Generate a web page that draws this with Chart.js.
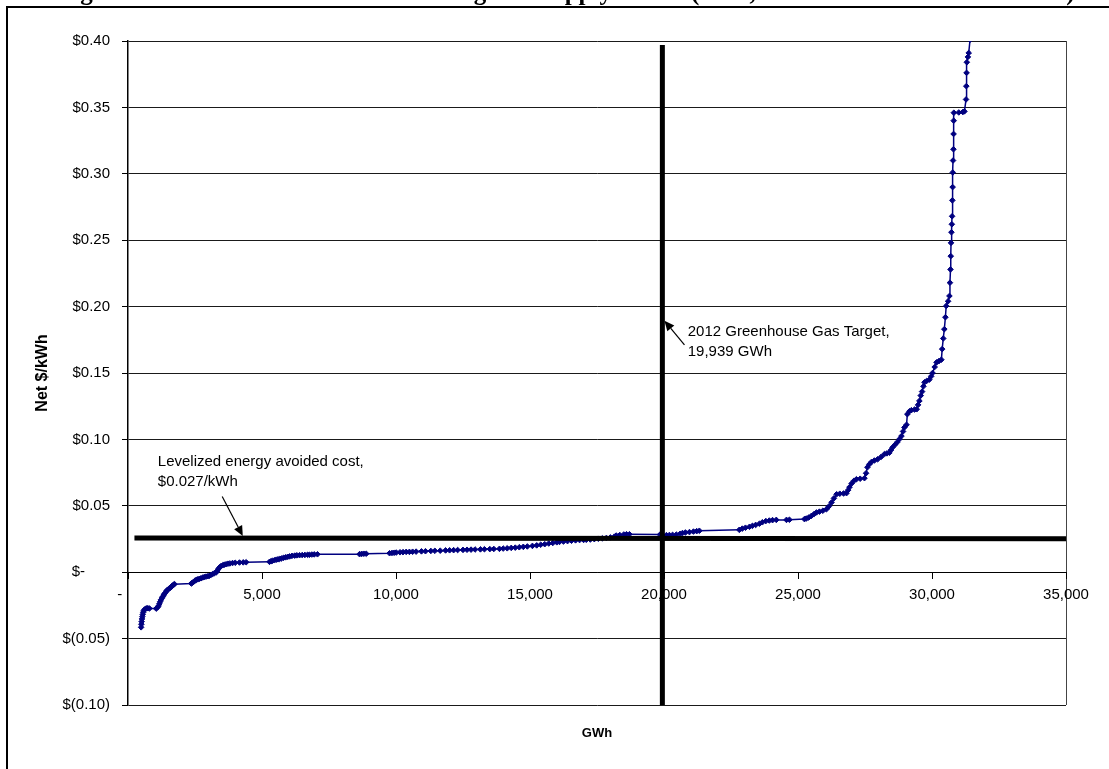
<!DOCTYPE html>
<html>
<head>
<meta charset="utf-8">
<script src="https://cdn.jsdelivr.net/npm/chart.js@4.4.1/dist/chart.umd.min.js"></script>
<style>
  html, body { margin: 0; padding: 0; background: #fff; }
  canvas { display: block; }
</style>
</head>
<body>
<canvas id="c" width="1109" height="769"></canvas>
<script>
// ---- Data ----
const gwh = [
  490, 500, 510, 522, 535, 550, 568, 590, 616, 650, 700, 740, 800, 1050, 1100, 1140, 1170, 1200, 1230, 1260,
  1300, 1330, 1360, 1400, 1440, 1480, 1520, 1560, 1610, 1650, 1700, 1735, 2360, 2400, 2450, 2500, 2545, 2600,
  2660, 2720, 2790, 2850, 2910, 2980, 3040, 3100, 3160, 3220, 3290, 3330, 3370, 3415, 3470, 3540, 3600, 3660,
  3730, 3800, 3900, 4000, 4160, 4300, 4410, 5280, 5340, 5390, 5460, 5530, 5600, 5650, 5720, 5800, 5880, 5960,
  6030, 6120, 6220, 6300, 6400, 6500, 6600, 6700, 6770, 6860, 6950, 7070, 8640, 8720, 8800, 8890, 9760, 9850,
  9930, 10010, 10150, 10260, 10380, 10500, 10620, 10750, 10950, 11100, 11300, 11450, 11650, 11850, 12000, 12150,
  12300, 12500, 12650, 12800, 12950, 13150, 13300, 13500, 13650, 13860, 14000, 14150, 14300, 14450, 14600, 14750,
  14900, 15090, 15250, 15400, 15550, 15700, 15850, 16000, 16100, 16250, 16400, 16550, 16700, 16850, 17000, 17100,
  17250, 17400, 17550, 17700, 17850, 18000, 18150, 18220, 18350, 18500, 18600, 18710, 19850, 20090, 20200, 20320,
  20460, 20600, 20690, 20800, 20950, 21100, 21220, 21320, 22810, 22920, 23040, 23190, 23300, 23420, 23560, 23670,
  23800, 23930, 24050, 24190, 24570, 24680, 25240, 25310, 25400, 25500, 25600, 25690, 25800, 25930, 26060, 26150,
  26250, 26340, 26440, 26560, 26700, 26810, 26870, 26920, 27000, 27090, 27180, 27320, 27480, 27540, 27590, 27660,
  27740, 27850, 27970, 28100, 28230, 28320, 28410, 28470, 28530, 28620, 28710, 28790, 28860, 28920, 28970, 29050,
  29080, 29160, 29230, 29350, 29430, 29480, 29530, 29580, 29630, 29680, 29720, 29800, 29900, 29970, 30020, 30100,
  30170, 30260, 30350, 30380, 30420, 30460, 30500, 30530, 30600, 30650, 30670, 30690, 30700, 30710, 30725, 30740,
  30750, 30760, 30770, 30775, 30785, 30800, 30805, 30810, 30815, 31000, 31150, 31210, 31270, 31280, 31290, 31300,
  31340, 31370, 31420, 31460
];
const netCost = [
  -0.0415, -0.0392, -0.0372, -0.0352, -0.0335, -0.0318, -0.0302, -0.0290, -0.0282, -0.0276, -0.0272, -0.0271, -0.0273, -0.0274, -0.0266, -0.0254, -0.0238, -0.0222, -0.0208, -0.0196,
  -0.0184, -0.0172, -0.0163, -0.0153, -0.0140, -0.0132, -0.0126, -0.0120, -0.0112, -0.0102, -0.0094, -0.0090, -0.0085, -0.0080, -0.0072, -0.0064, -0.0058, -0.0054,
  -0.0050, -0.0046, -0.0040, -0.0036, -0.0033, -0.0030, -0.0027, -0.0020, -0.0014, -0.0008, -0.0002, 0.0010, 0.0024, 0.0036, 0.0046, 0.0053, 0.0057, 0.0060,
  0.0064, 0.0066, 0.0069, 0.0071, 0.0073, 0.0074, 0.0075, 0.0078, 0.0083, 0.0086, 0.0090, 0.0094, 0.0097, 0.0099, 0.0103, 0.0108, 0.0112, 0.0116,
  0.0119, 0.0123, 0.0125, 0.0127, 0.0128, 0.0129, 0.0130, 0.0131, 0.0131, 0.0133, 0.0134, 0.0135, 0.0136, 0.0138, 0.0139, 0.0139, 0.0143, 0.0145,
  0.0146, 0.0148, 0.0150, 0.0151, 0.0153, 0.0153, 0.0154, 0.0155, 0.0157, 0.0158, 0.0160, 0.0161, 0.0162, 0.0164, 0.0165, 0.0166,
  0.0167, 0.0168, 0.0169, 0.0170, 0.0171, 0.0172, 0.0173, 0.0174, 0.0175, 0.0176, 0.0178, 0.0180, 0.0183, 0.0185, 0.0188, 0.0191,
  0.0194, 0.0198, 0.0202, 0.0207, 0.0211, 0.0216, 0.0220, 0.0225, 0.0228, 0.0231, 0.0234, 0.0237, 0.0240, 0.0242, 0.0243, 0.0244,
  0.0246, 0.0249, 0.0252, 0.0255, 0.0258, 0.0262, 0.0268, 0.0276, 0.0280, 0.0284, 0.0286, 0.0286, 0.0283, 0.0279, 0.0280, 0.0281,
  0.0283, 0.0289, 0.0295, 0.0299, 0.0302, 0.0306, 0.0309, 0.0312, 0.0319, 0.0328, 0.0335, 0.0342, 0.0349, 0.0356, 0.0365, 0.0376,
  0.0385, 0.0389, 0.0392, 0.0394, 0.0394, 0.0395, 0.0400, 0.0404, 0.0412, 0.0424, 0.0438, 0.0450, 0.0456, 0.0463, 0.0474, 0.0495,
  0.0525, 0.0556, 0.0587, 0.0591, 0.0593, 0.0595, 0.0618, 0.0640, 0.0668, 0.0689, 0.0700, 0.0704, 0.0708, 0.0745, 0.0790, 0.0812,
  0.0830, 0.0841, 0.0850, 0.0868, 0.0890, 0.0895, 0.0900, 0.0920, 0.0940, 0.0960, 0.0980, 0.1003, 0.1025, 0.1060, 0.1090, 0.1110,
  0.1190, 0.1212, 0.1220, 0.1225, 0.1227, 0.1260, 0.1290, 0.1330, 0.1360, 0.1400, 0.1430, 0.1440, 0.1450, 0.1475, 0.1500, 0.1545,
  0.1580, 0.1590, 0.1600, 0.1680, 0.1760, 0.1830, 0.1920, 0.2005, 0.2040, 0.2080, 0.2180, 0.2280, 0.2380, 0.2480, 0.2560, 0.2620,
  0.2680, 0.2800, 0.2900, 0.3010, 0.3100, 0.3185, 0.3300, 0.3400, 0.3460, 0.3462, 0.3465, 0.3470, 0.3560, 0.3660, 0.3760, 0.3840,
  0.3880, 0.3910, 0.4010, 0.4100
];

// Reference lines
const avoidedCostGwh = [240, 35000];
const avoidedCostValue = [0.0258, 0.0252];
const targetGwh = [19939, 19939];
const targetValue = [-0.10, 0.397];

// Axis ticks
const xTickValues = [0, 5000, 10000, 15000, 20000, 25000, 30000, 35000];
const yTickValues = [-0.10, -0.05, 0, 0.05, 0.10, 0.15, 0.20, 0.25, 0.30, 0.35, 0.40];

// Texts
const titleText = 'Figure 6: Achievable Conservation Program Supply Curve (2012, Levelized Net Resource Cost)';
const yTitle = 'Net $/kWh';
const xTitle = 'GWh';
const avoidedLabel = ['Levelized energy avoided cost,', '$0.027/kWh'];
const targetLabel = ['2012 Greenhouse Gas Target,', '19,939 GWh'];

// ---- Helpers ----
function fmtThousands(v) {
  const s = String(Math.round(v));
  return s.replace(/\B(?=(\d{3})+(?!\d))/g, ',');
}
function fmtX(v) {
  if (Math.abs(v) < 1e-9) return '-    ';
  return fmtThousands(v);
}
function fmtY(v) {
  const r = Math.round(v * 100) / 100;
  if (Math.abs(r) < 1e-9) return '$-      ';
  if (r < 0) return '$(' + Math.abs(r).toFixed(2) + ')';
  return '$' + r.toFixed(2);
}

function drawArrow(ctx, x1, y1, x2, y2) {
  const ang = Math.atan2(y2 - y1, x2 - x1);
  const len = 10, half = 4.5;
  const bx = x2 - len * Math.cos(ang), by = y2 - len * Math.sin(ang);
  ctx.beginPath();
  ctx.moveTo(x1, y1);
  ctx.lineTo(bx, by);
  ctx.lineWidth = 1.2;
  ctx.strokeStyle = '#000';
  ctx.stroke();
  ctx.beginPath();
  ctx.moveTo(x2, y2);
  ctx.lineTo(bx + half * Math.sin(ang), by - half * Math.cos(ang));
  ctx.lineTo(bx - half * Math.sin(ang), by + half * Math.cos(ang));
  ctx.closePath();
  ctx.fillStyle = '#000';
  ctx.fill();
}

const decor = {
  id: 'decor',
  afterDraw(chart) {
    const { ctx, chartArea } = chart;
    const xs = chart.scales.x, ys = chart.scales.y;
    ctx.save();
    // outer frame
    ctx.strokeStyle = '#000';
    ctx.lineWidth = 2;
    ctx.strokeRect(7, 7, 1300, 1000);
    // cropped title (only descenders visible)
    ctx.fillStyle = '#000';
    ctx.font = 'bold 25px "Liberation Serif", "Times New Roman", serif';
    ctx.textAlign = 'left';
    ctx.textBaseline = 'alphabetic';
    ctx.fillText(titleText, 58, 0);

    // annotations
    ctx.font = '15px "Liberation Sans", Arial, sans-serif';
    ctx.textBaseline = 'middle';
    ctx.fillStyle = '#000';
    // target annotation
    drawArrow(ctx, xs.getPixelForValue(20763), ys.getPixelForValue(0.1711),
                   xs.getPixelForValue(20017), ys.getPixelForValue(0.1894));
    let tx = xs.getPixelForValue(20887), ty = ys.getPixelForValue(0.1811);
    targetLabel.forEach((t, i) => ctx.fillText(t, tx, ty + i * 20));
    // avoided cost annotation
    drawArrow(ctx, xs.getPixelForValue(3515), ys.getPixelForValue(0.0570),
                   xs.getPixelForValue(4283), ys.getPixelForValue(0.0273));
    tx = xs.getPixelForValue(1112); ty = ys.getPixelForValue(0.0831);
    avoidedLabel.forEach((t, i) => ctx.fillText(t, tx, ty + i * 20));

    // x axis title
    ctx.font = 'bold 13px "Liberation Sans", Arial, sans-serif';
    ctx.textAlign = 'center';
    ctx.fillText(xTitle, (chartArea.left + chartArea.right) / 2, 733);
    ctx.restore();
  }
};

const curvePoints = gwh.map((x, i) => ({ x: x, y: netCost[i] }));
const avoidedPoints = avoidedCostGwh.map((x, i) => ({ x: x, y: avoidedCostValue[i] }));
const targetPoints = targetGwh.map((x, i) => ({ x: x, y: targetValue[i] }));

const tickFont = { family: '"Liberation Sans", Arial, sans-serif', size: 15 };

new Chart(document.getElementById('c').getContext('2d'), {
  type: 'scatter',
  data: {
    datasets: [
      {
        label: 'Supply curve',
        data: curvePoints,
        showLine: true,
        borderColor: '#000080',
        backgroundColor: '#000080',
        borderWidth: 1.5,
        pointStyle: 'rectRot',
        pointRadius: 2.8,
        pointBorderWidth: 1,
        pointBorderColor: '#000080',
        order: 2
      },
      {
        label: 'Avoided cost',
        data: avoidedPoints,
        showLine: true,
        borderColor: '#000',
        borderWidth: 5,
        pointRadius: 0,
        order: 1
      },
      {
        label: 'GHG target',
        data: targetPoints,
        showLine: true,
        borderColor: '#000',
        borderWidth: 5,
        pointRadius: 0,
        order: 0
      }
    ]
  },
  options: {
    responsive: false,
    animation: false,
    events: [],
    layout: { padding: { left: 0, right: 43, top: 41, bottom: 64 } },
    plugins: {
      legend: { display: false },
      tooltip: { enabled: false },
      title: { display: false }
    },
    scales: {
      x: {
        type: 'linear',
        position: { y: 0 },
        min: 0,
        max: 35000,
        afterBuildTicks: (s) => { s.ticks = xTickValues.map(v => ({ value: v })); },
        ticks: {
          color: '#000',
          font: tickFont,
          padding: 8,
          maxRotation: 0,
          autoSkip: false,
          callback: (v) => fmtX(v)
        },
        grid: {
          drawOnChartArea: true,
          drawTicks: true,
          tickLength: 6,
          tickColor: '#000',
          color: (c) => (c.tick && c.tick.value === 35000) ? '#444' : 'rgba(0,0,0,0)',
          lineWidth: 1
        },
        border: { display: true, color: '#000', width: 1 }
      },
      y: {
        type: 'linear',
        position: 'left',
        min: -0.10,
        max: 0.40,
        afterBuildTicks: (s) => { s.ticks = yTickValues.map(v => ({ value: v })); },
        afterFit: (s) => { s.width = 128; },
        ticks: {
          color: '#000',
          font: tickFont,
          padding: 12,
          autoSkip: false,
          callback: (v) => fmtY(v)
        },
        grid: {
          color: '#1a1a1a',
          lineWidth: 1,
          drawTicks: true,
          tickLength: 6,
          tickColor: '#000'
        },
        border: { display: true, color: '#000', width: 1.5 },
        title: {
          display: true,
          text: yTitle,
          color: '#000',
          font: { family: '"Liberation Sans", Arial, sans-serif', size: 16, weight: 'bold' },
          padding: { top: 33, bottom: 0 }
        }
      }
    }
  },
  plugins: [decor]
});
</script>
</body>
</html>
